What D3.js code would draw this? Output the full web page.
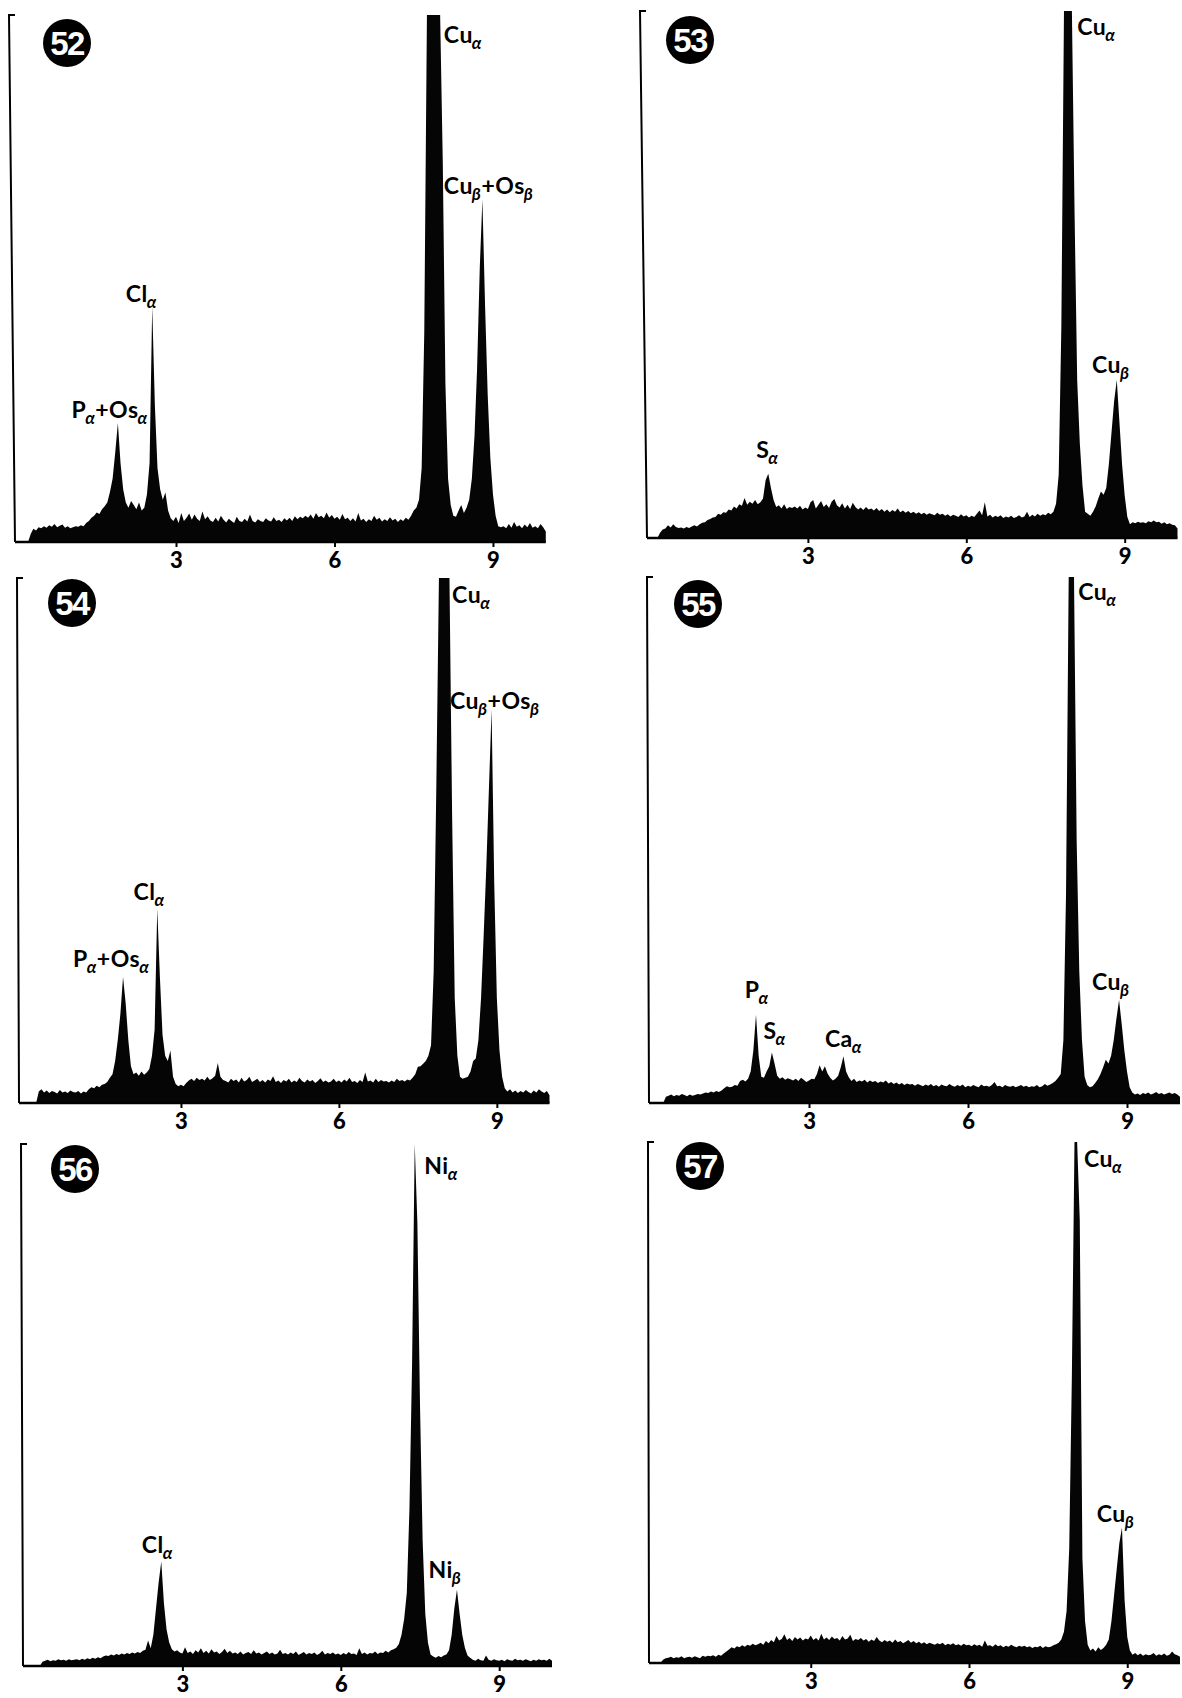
<!DOCTYPE html>
<html>
<head>
<meta charset="utf-8">
<script src="https://cdn.jsdelivr.net/npm/d3@7"></script>
<style>
  body { margin: 0; background: #fff; }
  .peak { font-family: Lato, "Open Sans", sans-serif; font-weight: 700; font-size: 23px; fill: #000; letter-spacing: 0.5px; }
  .peak .sub { font-size: 17px; font-style: italic; }
  .tick text { font-family: Lato, "Open Sans", sans-serif; font-weight: 900; font-size: 22px; fill: #000; }
  .badge text { font-family: "Liberation Sans", Arial, sans-serif; font-weight: 700; font-size: 33px; fill: #fff; }
</style>
</head>
<body>
<svg id="fig" width="1182" height="1698"></svg>
<script>
// EDX spectra, figures 52-57. Energy (keV) on x, counts as % of full scale on y.
// Each spectrum is one value per 0.05 keV channel, from 0.00 to 10.00 keV.
const panelIds = ['52', '53', '54', '55', '56', '57'];
const tickValues = [3, 6, 9];
const channelStep = 0.05;

const spectrum52 = [
  0, 0, 0, 0, 0, 1.5, 2.5, 2.2, 2.8, 2.6, 3.0, 2.7, 3.2, 2.9, 3.4, 2.8, 3.1, 3.3, 2.7, 3.0,
  2.6, 2.8, 3.0, 2.9, 3.2, 3.0, 3.6, 4.0, 4.6, 5.0, 5.6, 5.3, 6.2, 6.8, 7.5, 9.5, 12, 17, 22.6, 15,
  10, 7.5, 6.5, 7.8, 7.0, 6.2, 7.5, 6.0, 6.5, 9, 15, 44.7, 26, 14, 10, 8, 9.4, 6, 4.5, 4.0,
  4.8, 3.6, 5.5, 4.0, 4.6, 5.4, 4.2, 5.2, 4.4, 4.0, 5.8, 4.3, 4.9, 4.1, 3.8, 4.6, 3.9, 5.0, 4.2, 3.7,
  4.4, 4.0, 3.6, 4.8, 4.0, 3.8, 4.4, 3.9, 5.2, 4.0, 3.7, 4.3, 4.0, 3.8, 4.5, 4.1, 3.9, 4.7, 4.0, 4.2,
  3.8, 4.5, 4.1, 4.6, 4.0, 4.9, 4.3, 4.8, 4.5, 5.0, 4.6, 5.2, 4.4, 5.5, 4.7, 5.0, 4.5, 5.6, 4.6, 5.1,
  4.4, 4.8, 4.2, 5.3, 4.3, 4.6, 4.0, 4.5, 3.9, 5.5, 4.1, 4.4, 3.8, 4.3, 4.0, 5.0, 4.2, 4.6, 3.9, 4.3,
  4.0, 4.7, 4.1, 4.4, 3.8, 4.3, 4.0, 4.6, 4.2, 5.0, 6.0, 6.5, 8, 14, 40, 100, 100, 100, 100, 100,
  100, 72, 30, 12, 7, 5.0, 4.8, 6.0, 7.0, 5.5, 6.5, 8, 12, 20, 33, 52, 65, 45, 28, 16,
  9, 5, 3.0, 2.8, 3.0, 2.6, 3.4, 2.7, 3.8, 2.9, 3.2, 2.6, 3.3, 2.8, 3.6, 2.7, 3.0, 2.6, 3.4, 2.8,
  2.0
];

const spectrum53 = [
  0, 0, 0, 0, 1.0, 1.6, 1.8, 2.4, 2.0, 2.6, 2.1, 1.9, 2.0, 1.8, 2.1, 1.9, 2.2, 2.4, 2.2, 2.6,
  2.9, 3.0, 3.4, 3.6, 3.9, 4.0, 4.6, 4.4, 4.9, 4.8, 5.4, 5.2, 6.0, 5.6, 6.4, 6.1, 7.6, 6.3, 6.9, 6.5,
  7.2, 6.4, 6.8, 7.5, 11.0, 12.2, 9.5, 7.2, 5.9, 6.2, 5.6, 6.4, 5.5, 5.9, 5.7, 6.0, 5.6, 6.1, 5.4, 5.8,
  5.5, 6.8, 7.2, 5.6, 6.3, 7.0, 5.9, 6.4, 5.7, 6.9, 7.4, 6.2, 5.8, 6.6, 5.6, 6.3, 5.5, 6.7, 5.9, 5.4,
  5.8, 5.3, 5.9, 5.4, 5.6, 5.2, 5.7, 5.1, 5.5, 5.0, 5.4, 4.9, 5.3, 5.0, 5.6, 4.9, 5.2, 4.8, 5.1, 4.7,
  5.0, 4.6, 4.9, 4.5, 4.8, 4.4, 4.7, 4.5, 4.3, 4.8, 4.4, 4.6, 4.2, 4.5, 4.1, 4.4, 4.2, 4.0, 4.5, 4.1,
  4.3, 3.9, 4.2, 4.0, 4.6, 5.2, 4.3, 6.8, 4.1, 4.4, 3.9, 4.2, 4.0, 4.3, 3.8, 4.1, 3.9, 4.2, 3.8, 4.0,
  4.3, 3.9, 4.1, 5.0, 4.0, 4.4, 4.1, 4.6, 4.2, 4.5, 4.3, 4.8, 4.5, 5.0, 6.5, 12, 40, 100, 100, 100,
  100, 62, 30, 18, 10, 5.0, 4.6, 4.2, 5.0, 6.0, 7.5, 8.8, 8.2, 9.5, 14, 20, 26, 30, 22, 14,
  8, 4.0, 2.6, 3.0, 2.8, 3.1, 2.9, 3.0, 2.8, 3.2, 3.0, 3.3, 3.0, 3.1, 2.7, 3.0, 2.6, 2.8, 2.5, 2.4,
  1.8
];

const spectrum54 = [
  0, 0, 0, 0, 0, 0, 2.2, 2.6, 2.0, 2.4, 1.9, 2.3, 2.1, 1.8, 2.5, 2.0, 2.2, 1.9, 2.4, 2.1,
  2.0, 2.3, 1.8, 2.2, 2.0, 2.6, 3.0, 2.8, 3.3, 3.0, 3.5, 3.6, 4.0, 4.8, 5.5, 8, 12, 17, 24, 19,
  12, 7, 5.5, 5.8, 5.2, 6.0, 5.4, 5.8, 6.5, 9, 14, 37, 24, 13, 9, 8, 10, 5, 3.6, 3.2,
  3.5, 3.2, 3.8, 4.3, 4.6, 4.2, 4.8, 4.4, 4.6, 4.3, 5.0, 4.4, 4.7, 5.2, 7.6, 5.0, 4.4, 4.2, 3.9, 4.6,
  4.2, 4.5, 3.9, 4.8, 4.1, 4.4, 5.0, 4.0, 4.3, 4.6, 4.0, 4.4, 3.9, 4.5, 4.2, 5.1, 4.0, 4.3, 3.8, 4.4,
  4.1, 4.6, 3.9, 4.3, 4.0, 4.8, 4.2, 3.9, 4.5, 4.1, 4.4, 3.8, 4.2, 4.7, 4.0, 4.3, 3.9, 4.1, 4.6, 4.0,
  4.3, 3.9, 4.5, 4.1, 4.8, 4.0, 4.2, 3.8, 4.4, 4.0, 5.8, 4.1, 4.3, 3.9, 4.6, 4.0, 4.4, 4.1, 4.2, 3.9,
  4.3, 4.0, 4.6, 4.2, 4.4, 4.1, 4.5, 4.3, 4.8, 5.5, 6.9, 7.0, 7.5, 8, 9, 11, 25, 60, 100, 100,
  100, 100, 100, 55, 20, 9, 5, 4.6, 4.8, 5.0, 6, 8, 8.5, 12, 20, 32, 45, 60, 75, 42,
  20, 10, 5, 2.8, 2.2, 2.6, 2.0, 2.4, 1.9, 2.3, 2.0, 2.5, 2.1, 1.8, 2.4, 2.0, 2.6, 2.2, 1.9, 2.3,
  1.5
];

const spectrum55 = [
  0, 0, 0, 0, 0, 0, 1.2, 1.4, 1.6, 1.3, 1.5, 1.4, 1.7, 1.5, 1.3, 1.6, 1.4, 1.5, 1.7, 1.6,
  1.8, 2.0, 1.9, 2.2, 2.0, 2.3, 2.1, 2.4, 2.8, 3.2, 3.0, 3.1, 3.4, 3.3, 4.2, 4.4, 4.1, 4.6, 6, 10,
  16.8, 9, 5, 4.8, 6.0, 7.0, 9.6, 7.5, 5.2, 4.6, 4.9, 4.4, 4.7, 4.5, 4.3, 4.6, 4.2, 4.8, 4.4, 4.0,
  4.3, 4.6, 4.5, 5.5, 7.2, 6.0, 7.0, 5.6, 4.8, 4.3, 4.6, 5.2, 6.8, 8.9, 6.0, 4.9, 4.2, 4.6, 4.0, 4.3,
  4.1, 4.4, 3.9, 4.3, 4.0, 4.2, 3.8, 4.1, 3.9, 4.3, 3.7, 4.0, 3.6, 3.9, 3.5, 3.8, 3.4, 3.7, 3.5, 3.6,
  3.3, 3.6, 3.4, 3.2, 3.5, 3.3, 3.6, 3.2, 3.4, 3.1, 3.5, 3.3, 3.2, 3.6, 3.3, 3.1, 3.4, 3.2, 3.5, 3.0,
  3.3, 3.1, 3.4, 3.2, 3.0, 3.5, 3.2, 3.3, 3.1, 3.4, 4.0, 3.2, 3.3, 3.0, 3.4, 3.2, 3.1, 3.3, 3.0, 3.2,
  3.4, 3.1, 3.3, 3.0, 3.2, 3.1, 3.4, 3.0, 3.2, 3.6, 3.3, 3.5, 3.8, 4.2, 4.8, 5.5, 12, 40, 100, 100,
  100, 50, 25, 12, 5, 3.4, 3.0, 3.2, 3.8, 4.5, 5.5, 6.8, 8.2, 7.5, 9, 12, 16, 19.6, 15, 10,
  6, 3, 2.0, 1.6, 1.8, 1.5, 1.9, 1.7, 2.0, 1.6, 1.8, 2.1, 1.7, 1.9, 1.6, 1.8, 2.0, 1.7, 1.9, 1.6,
  1.2
];

const spectrum56 = [
  0, 0, 0, 0, 0, 0, 0, 0.8, 1.0, 1.2, 0.9, 1.1, 1.0, 1.3, 1.1, 1.2, 1.0, 1.3, 1.1, 1.2,
  1.3, 1.1, 1.4, 1.2, 1.5, 1.3, 1.6, 1.4, 1.7, 1.5, 1.8, 2.0, 1.9, 2.2, 2.0, 2.3, 2.1, 2.4, 2.2, 2.5,
  2.3, 2.6, 2.4, 2.7, 2.5, 2.9, 3.1, 4.9, 3.4, 6, 11, 16, 20, 12, 7, 4.5, 3.2, 2.8, 3.0, 2.6,
  2.4, 3.6, 2.5, 2.8, 2.3, 3.0, 2.6, 3.4, 2.5, 2.9, 2.4, 3.2, 2.6, 2.8, 2.3, 2.7, 3.3, 2.5, 2.9, 2.4,
  2.6, 2.3, 2.8, 2.2, 2.5, 2.7, 2.3, 3.0, 2.4, 2.6, 2.2, 2.5, 2.8, 2.3, 2.6, 2.2, 2.4, 3.1, 2.3, 2.5,
  2.2, 2.6, 2.3, 2.8, 2.1, 2.4, 2.7, 2.2, 2.5, 2.3, 2.6, 2.1, 2.4, 2.9, 2.2, 2.5, 2.3, 2.6, 2.2, 2.4,
  2.1, 2.5, 2.2, 2.7, 2.3, 2.4, 2.1, 3.4, 2.3, 2.6, 2.2, 2.5, 2.4, 2.8, 2.3, 2.6, 2.5, 2.9, 2.6, 3.0,
  3.2, 3.5, 4.2, 6, 9, 14, 30, 58, 100, 85, 50, 24, 10, 4.5, 2.2, 1.8, 1.6, 1.9, 1.7, 2.0,
  2.2, 3.0, 6, 11, 14.6, 10, 6, 3.5, 2.0, 1.6, 1.2, 1.0, 1.4, 1.1, 1.0, 2.0, 1.2, 1.0, 1.3, 1.1,
  1.0, 1.2, 0.9, 1.3, 1.1, 1.0, 1.4, 1.1, 1.2, 1.0, 1.3, 1.1, 0.9, 1.2, 1.0, 1.3, 1.1, 1.2, 1.0, 1.4,
  1.0
];

const spectrum57 = [
  0, 0, 0, 0, 0.6, 0.9, 1.0, 1.2, 0.9, 1.1, 1.0, 1.3, 0.9, 1.1, 1.2, 1.0, 1.3, 1.1, 0.9, 1.4,
  1.2, 1.4, 1.3, 1.5, 1.2, 1.6, 1.4, 1.8, 2.2, 2.6, 3.0, 2.8, 3.2, 3.0, 3.4, 3.1, 3.5, 3.3, 3.7, 3.4,
  3.6, 3.9, 3.5, 4.2, 3.8, 4.4, 4.0, 5.2, 4.3, 4.6, 5.5, 4.4, 4.8, 4.2, 5.0, 4.5, 4.9, 4.3, 4.7, 4.5,
  5.3, 4.4, 4.8, 4.3, 5.6, 4.5, 4.9, 4.4, 5.1, 4.6, 4.8, 4.3, 5.2, 4.5, 4.7, 5.4, 4.2, 4.6, 4.4, 4.8,
  4.3, 4.6, 4.1, 4.5, 4.2, 5.0, 4.3, 4.0, 4.4, 4.1, 4.3, 3.9, 4.5, 4.0, 4.2, 3.8, 4.1, 4.4, 3.9, 4.2,
  3.8, 4.1, 3.7, 4.0, 3.6, 3.9, 3.7, 3.5, 3.8, 3.6, 3.9, 3.4, 3.7, 3.5, 3.8, 3.4, 3.6, 3.3, 3.7, 3.4,
  3.5, 3.2, 3.6, 3.3, 3.5, 3.1, 4.3, 3.3, 3.4, 3.1, 3.6, 3.2, 3.4, 3.0, 3.3, 3.1, 3.5, 3.2, 3.0, 3.3,
  3.1, 3.3, 3.0, 3.2, 2.9, 3.1, 3.0, 3.3, 2.9, 3.2, 3.0, 3.1, 3.4, 3.6, 3.9, 4.5, 6, 10, 22, 55,
  100, 100, 85, 20, 8, 3.5, 2.4, 2.8, 2.2, 3.0, 2.5, 2.9, 3.5, 4.5, 8, 13, 18, 23, 26, 12,
  5, 2.4, 1.6, 1.9, 1.5, 1.8, 1.4, 1.7, 1.5, 1.6, 1.9, 1.4, 1.7, 1.5, 1.8, 1.4, 1.6, 2.2, 1.7, 1.5,
  1.2
];

// Peak labels: left edge energy (keV), baseline level (% full scale), [symbol, line] parts
const labels52 = [
  { e: 8.07, v: 94.7, parts: [['Cu', 'α']] },
  { e: 8.07, v: 66, parts: [['Cu', 'β'], ['+', ''], ['Os', 'β']] },
  { e: 2.05, v: 45.6, parts: [['Cl', 'α']] },
  { e: 1.02, v: 23.6, parts: [['P', 'α'], ['+', ''], ['Os', 'α']] }
];
const labels53 = [
  { e: 8.10, v: 95.4, parts: [['Cu', 'α']] },
  { e: 8.38, v: 31.3, parts: [['Cu', 'β']] },
  { e: 2.02, v: 15.2, parts: [['S', 'α']] }
];
const labels54 = [
  { e: 8.15, v: 95.2, parts: [['Cu', 'α']] },
  { e: 8.11, v: 75, parts: [['Cu', 'β'], ['+', ''], ['Os', 'β']] },
  { e: 2.10, v: 38.7, parts: [['Cl', 'α']] },
  { e: 0.95, v: 25.9, parts: [['P', 'α'], ['+', ''], ['Os', 'α']] }
];
const labels55 = [
  { e: 8.08, v: 95.6, parts: [['Cu', 'α']] },
  { e: 8.34, v: 21.5, parts: [['Cu', 'β']] },
  { e: 1.79, v: 20, parts: [['P', 'α']] },
  { e: 2.14, v: 12.2, parts: [['S', 'α']] },
  { e: 3.30, v: 10.7, parts: [['Ca', 'α']] }
];
const labels56 = [
  { e: 7.58, v: 94.3, parts: [['Ni', 'α']] },
  { e: 7.66, v: 16.8, parts: [['Ni', 'β']] },
  { e: 2.23, v: 21.6, parts: [['Cl', 'α']] }
];
const labels57 = [
  { e: 8.18, v: 95.2, parts: [['Cu', 'α']] },
  { e: 8.42, v: 27, parts: [['Cu', 'β']] }
];

const spectra = { '52': spectrum52, '53': spectrum53, '54': spectrum54, '55': spectrum55, '56': spectrum56, '57': spectrum57 };
const peakLabels = { '52': labels52, '53': labels53, '54': labels54, '55': labels55, '56': labels56, '57': labels57 };

// Page layout of each panel (pixels)
const layout = {
  '52': { axisTop: 9, axisBottom: 15, x0: 17.5, unit: 52.83, top: 15, base: 542, badge: [67, 43] },
  '53': { axisTop: 640, axisBottom: 647, x0: 649.5, unit: 52.8, top: 11, base: 538, badge: [690, 40] },
  '54': { axisTop: 17, axisBottom: 19, x0: 23, unit: 52.65, top: 578, base: 1103, badge: [72, 603] },
  '55': { axisTop: 647, axisBottom: 649, x0: 650, unit: 53.0, top: 577, base: 1103, badge: [698, 604] },
  '56': { axisTop: 21, axisBottom: 23, x0: 24, unit: 52.8, top: 1144, base: 1666, badge: [75, 1169] },
  '57': { axisTop: 648, axisBottom: 649, x0: 652.5, unit: 52.75, top: 1142, base: 1663, badge: [700, 1166] }
};

const svg = d3.select('#fig');

function drawPanel(id) {
  const L = layout[id];
  const data = spectra[id];
  const g = svg.append('g').attr('class', 'panel');

  const x = d3.scaleLinear().domain([0, 10]).range([L.x0, L.x0 + L.unit * 10]);
  const y = d3.scaleLinear().domain([0, 100]).range([L.base, L.top]).clamp(true);

  // Filled spectrum
  const area = d3.area()
    .x((d, i) => x(i * channelStep))
    .y0(L.base)
    .y1(d => y(d));

  g.append('path')
    .datum(data)
    .attr('d', area)
    .attr('fill', '#050505');

  // Left axis with the small hook at its top
  g.append('path')
    .attr('d', `M${L.axisTop + 6},${L.top} H${L.axisTop} L${L.axisBottom},${L.base}`)
    .attr('fill', 'none')
    .attr('stroke', '#000')
    .attr('stroke-width', 2);

  // Baseline
  g.append('line')
    .attr('x1', L.axisBottom).attr('x2', x(10))
    .attr('y1', L.base).attr('y2', L.base)
    .attr('stroke', '#000')
    .attr('stroke-width', 2.5);

  // Energy ticks
  const axis = d3.axisBottom(x)
    .tickValues(tickValues)
    .tickFormat(d3.format('d'))
    .tickSize(6)
    .tickSizeOuter(0)
    .tickPadding(5);

  const ax = g.append('g')
    .attr('transform', `translate(0,${L.base - 1})`)
    .call(axis);
  ax.select('.domain').remove();
  ax.selectAll('.tick line').attr('stroke', '#000').attr('stroke-width', 2);

  // Figure number badge
  const b = g.append('g').attr('class', 'badge')
    .attr('transform', `translate(${L.badge[0]},${L.badge[1]})`);
  b.append('circle').attr('r', 24).attr('fill', '#000');
  b.append('text')
    .attr('text-anchor', 'middle')
    .attr('dy', '0.36em')
    .attr('letter-spacing', '-1.5')
    .text(id);

  // Peak labels
  peakLabels[id].forEach(lab => {
    const t = g.append('text')
      .attr('class', 'peak')
      .attr('x', x(lab.e))
      .attr('y', y(lab.v));
    let lowered = false;
    lab.parts.forEach(([symbol, line]) => {
      t.append('tspan').attr('dy', lowered ? -6 : 0).text(symbol);
      lowered = false;
      if (line) {
        t.append('tspan').attr('class', 'sub').attr('dy', 6).attr('dx', -1).text(line);
        lowered = true;
      }
    });
  });
}

panelIds.forEach(drawPanel);
</script>
</body>
</html>
